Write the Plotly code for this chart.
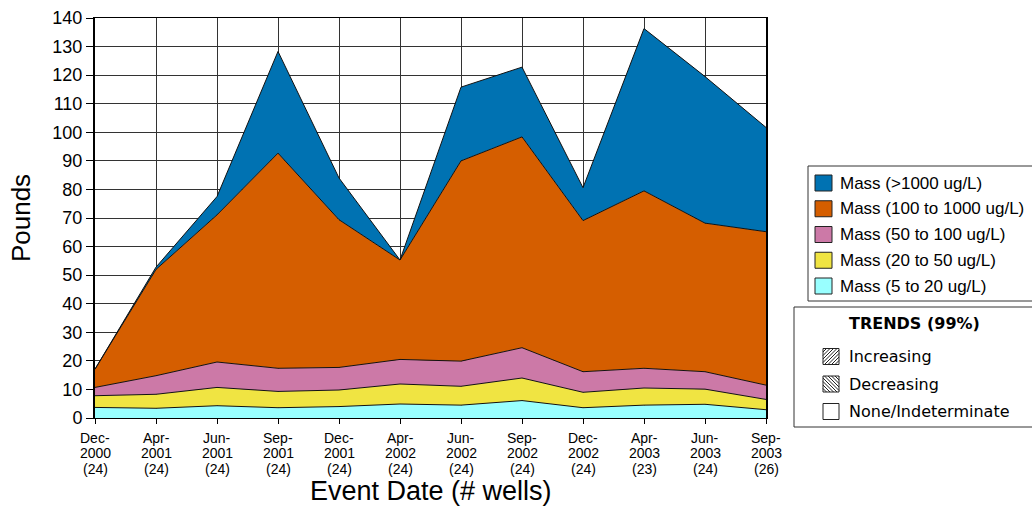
import plotly.graph_objects as go

# Sampling events and number of wells per event
event_month = ["Dec", "Apr", "Jun", "Sep", "Dec", "Apr", "Jun", "Sep", "Dec", "Apr", "Jun", "Sep"]
event_year = ["2000", "2001", "2001", "2001", "2001", "2002", "2002", "2002", "2002", "2003", "2003", "2003"]
wells = [24, 24, 24, 24, 24, 24, 24, 24, 24, 23, 24, 26]

# Dissolved mass (pounds) in each concentration band
mass_5_20 = [3.7, 3.4, 4.3, 3.6, 4.0, 4.9, 4.5, 6.1, 3.6, 4.5, 4.8, 2.9]
mass_20_50 = [4.1, 4.9, 6.4, 5.7, 5.8, 7.0, 6.6, 7.9, 5.4, 6.0, 5.3, 3.6]
mass_50_100 = [2.9, 6.5, 8.9, 8.1, 7.9, 8.6, 8.8, 10.6, 7.2, 6.9, 6.1, 5.0]
mass_100_1000 = [6.4, 37.2, 51.5, 75.3, 51.7, 34.8, 70.1, 73.8, 52.9, 62.1, 52.0, 53.7]
mass_gt_1000 = [0.0, 0.8, 6.4, 35.6, 14.6, 0.0, 25.8, 24.4, 11.5, 56.8, 51.3, 36.5]

band_names = ["Mass (5 to 20 ug/L)", "Mass (20 to 50 ug/L)", "Mass (50 to 100 ug/L)",
              "Mass (100 to 1000 ug/L)", "Mass (>1000 ug/L)"]
band_colors = ["#99FFFF", "#F0E442", "#CC79A7", "#D55E00", "#0072B2"]
band_values = [mass_5_20, mass_20_50, mass_50_100, mass_100_1000, mass_gt_1000]

trend_labels = ["Increasing", "Decreasing", "None/Indeterminate"]

categories = [f"{m}-{y}" for m, y in zip(event_month, event_year)]

W, H = 1032, 510
L, R, T, B = 95, 266, 18, 92
PW, PH = W - L - R, H - T - B


def px(x):
    return (x - L) / PW


def py(y):
    return (H - B - y) / PH


fig = go.Figure()
for name, color, vals in zip(band_names, band_colors, band_values):
    fig.add_trace(go.Scatter(
        x=categories, y=vals, name=name, mode="lines",
        stackgroup="mass", fillcolor=color,
        line=dict(color="#111111", width=1),
        showlegend=False, hoverinfo="x+y+name",
    ))

shapes = []
annotations = []
axis_font = "Liberation Sans, Arial, sans-serif"
legend_font = dict(family=axis_font, size=17, color="#000000")
trend_font = dict(family="DejaVu Sans, Verdana, sans-serif", size=16, color="#000000")

# Three-line category labels under each tick: month, year, well count
for cat, m, y, w in zip(categories, event_month, event_year, wells):
    for line_y, txt in zip((437.5, 453, 468.5), (f"{m}-", y, f"({w})")):
        annotations.append(dict(xref="x", yref="paper", x=cat, y=py(line_y),
                                xanchor="center", yanchor="middle", text=txt,
                                showarrow=False,
                                font=dict(family=axis_font, size=14, color="#000000")))

annotations.append(dict(xref="paper", yref="paper", x=0.5, y=py(491),
                        xanchor="center", yanchor="middle", text="Event Date (# wells)",
                        showarrow=False,
                        font=dict(family=axis_font, size=27, color="#000000")))

# Concentration band key (top entry is the highest band)
shapes.append(dict(type="rect", xref="paper", yref="paper",
                   x0=px(808), x1=px(1040), y0=py(301), y1=py(166),
                   line=dict(color="#333333", width=1), fillcolor="rgba(0,0,0,0)"))
for i, (name, color) in enumerate(zip(band_names[::-1], band_colors[::-1])):
    cy = 183 + 25.75 * i
    shapes.append(dict(type="rect", xref="paper", yref="paper",
                       x0=px(815), x1=px(832), y0=py(cy + 8), y1=py(cy - 8),
                       line=dict(color="#222222", width=1), fillcolor=color))
    annotations.append(dict(xref="paper", yref="paper", x=px(838), y=py(cy),
                            xanchor="left", yanchor="middle", text=name,
                            showarrow=False, font=legend_font))

# Trend key
shapes.append(dict(type="rect", xref="paper", yref="paper",
                   x0=px(794), x1=px(1040), y0=py(427), y1=py(307),
                   line=dict(color="#333333", width=1), fillcolor="rgba(0,0,0,0)"))
annotations.append(dict(xref="paper", yref="paper", x=px(847), y=py(323),
                        xanchor="left", yanchor="middle", text="<b>TRENDS (99%)</b>",
                        showarrow=False, font=trend_font))

icon_x, icon_s = 823, 16
for i, label in enumerate(trend_labels):
    cy = 356.5 + 27.5 * i
    a, b, s = icon_x, cy - icon_s / 2, icon_s
    shapes.append(dict(type="rect", xref="paper", yref="paper",
                       x0=px(a), x1=px(a + s), y0=py(b + s), y1=py(b),
                       line=dict(color="#222222", width=1), fillcolor="#FFFFFF"))
    step = 3.5
    if label == "Increasing":
        c = a + b + step
        while c < a + b + 2 * s:
            xs = max(a, c - (b + s))
            xe = min(a + s, c - b)
            shapes.append(dict(type="line", xref="paper", yref="paper",
                               x0=px(xs), y0=py(c - xs), x1=px(xe), y1=py(c - xe),
                               line=dict(color="#222222", width=1)))
            c += step
    elif label == "Decreasing":
        c = a - b - s + step
        while c < a - b + s:
            xs = max(a, c + b)
            xe = min(a + s, c + b + s)
            shapes.append(dict(type="line", xref="paper", yref="paper",
                               x0=px(xs), y0=py(xs - c), x1=px(xe), y1=py(xe - c),
                               line=dict(color="#222222", width=1)))
            c += step
    annotations.append(dict(xref="paper", yref="paper", x=px(847), y=py(cy),
                            xanchor="left", yanchor="middle", text=label,
                            showarrow=False, font=trend_font))

fig.update_layout(
    width=W, height=H,
    margin=dict(l=L, r=R, t=T, b=B, autoexpand=False),
    paper_bgcolor="#FFFFFF", plot_bgcolor="#FFFFFF",
    font=dict(family=axis_font, color="#000000"),
    shapes=shapes, annotations=annotations,
    xaxis=dict(
        type="category", range=[0, len(categories) - 1],
        tickmode="array", tickvals=categories, showticklabels=False,
        ticks="outside", ticklen=5, tickcolor="#000000",
        showgrid=True, gridcolor="#333333", gridwidth=1,
        showline=True, linecolor="#000000", linewidth=1, mirror=True,
    ),
    yaxis=dict(
        range=[0, 140], tickmode="linear", tick0=0, dtick=10,
        tickfont=dict(size=18), ticks="outside", ticklen=7, tickcolor="#000000",
        showgrid=True, gridcolor="#333333", gridwidth=1,
        showline=True, linecolor="#000000", linewidth=2, mirror=True,
        zeroline=False,
        title=dict(text="Pounds", font=dict(size=26), standoff=14),
    ),
)

fig.write_html("out.html")
